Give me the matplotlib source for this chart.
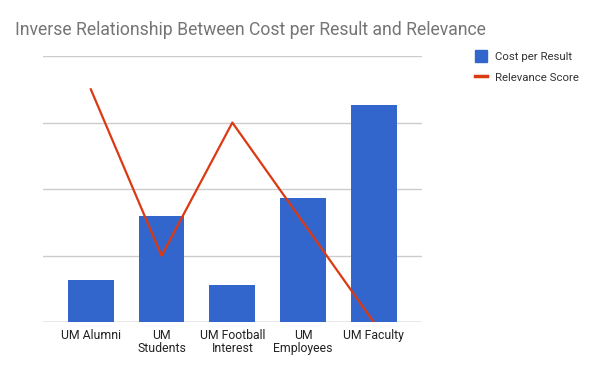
import matplotlib.pyplot as plt
from matplotlib.patches import Patch
from matplotlib.lines import Line2D

plt.rcParams['font.family'] = ['Roboto', 'DejaVu Sans']

categories = ['UM Alumni', 'UM\nStudents', 'UM Football\nInterest', 'UM\nEmployees', 'UM Faculty']
cost_per_result = [1.27, 3.2, 1.12, 3.74, 6.54]
relevance_score = [7, 2, 6, 3, 0]

blue = '#3366cc'
red = '#dc3912'

fig = plt.figure(figsize=(5.97, 3.70), dpi=100)
ax = fig.add_axes([0.0715, 0.1289, 0.6354, 0.7197])
x = list(range(len(categories)))

ax.bar(x, cost_per_result, width=0.646, color=blue, zorder=2)
ax.set_ylim(0, 8)
ax.set_yticks([0, 2, 4, 6, 8])
ax.set_yticklabels([])
ax.grid(axis='y', color='#cccccc', linewidth=1, zorder=0)
ax.set_axisbelow(True)
ax.tick_params(axis='both', length=0)
ax.tick_params(axis='x', pad=5)
ax.set_xticks(x)
ax.set_xticklabels(categories, fontsize=8.8, color='#222222', linespacing=1.0)
for s in ax.spines.values():
    s.set_visible(False)
ax.axhline(0, color='#bbbbbb', linewidth=1, zorder=1)
ax.set_xlim(-0.68, 4.68)

ax2 = ax.twinx()
ax2.plot(x, relevance_score, color=red, linewidth=1.6, zorder=3)
ax2.set_ylim(0, 8)
ax2.set_yticks([])
for s in ax2.spines.values():
    s.set_visible(False)

fig.text(0.025, 0.918, 'Inverse Relationship Between Cost per Result and Relevance',
         fontsize=12.7, color='#757575', va='center', ha='left')

handles = [Patch(color=blue, label='Cost per Result'),
           Line2D([0], [0], color=red, linewidth=2.5, label='Relevance Score')]
fig.legend(handles=handles, loc='upper left', bbox_to_anchor=(0.788, 0.876),
           frameon=False, fontsize=8.2, labelcolor='#333333', handlelength=1.05,
           handleheight=1.15, handletextpad=0.7, labelspacing=0.85, borderaxespad=0)

plt.savefig('out.png', dpi=100)
